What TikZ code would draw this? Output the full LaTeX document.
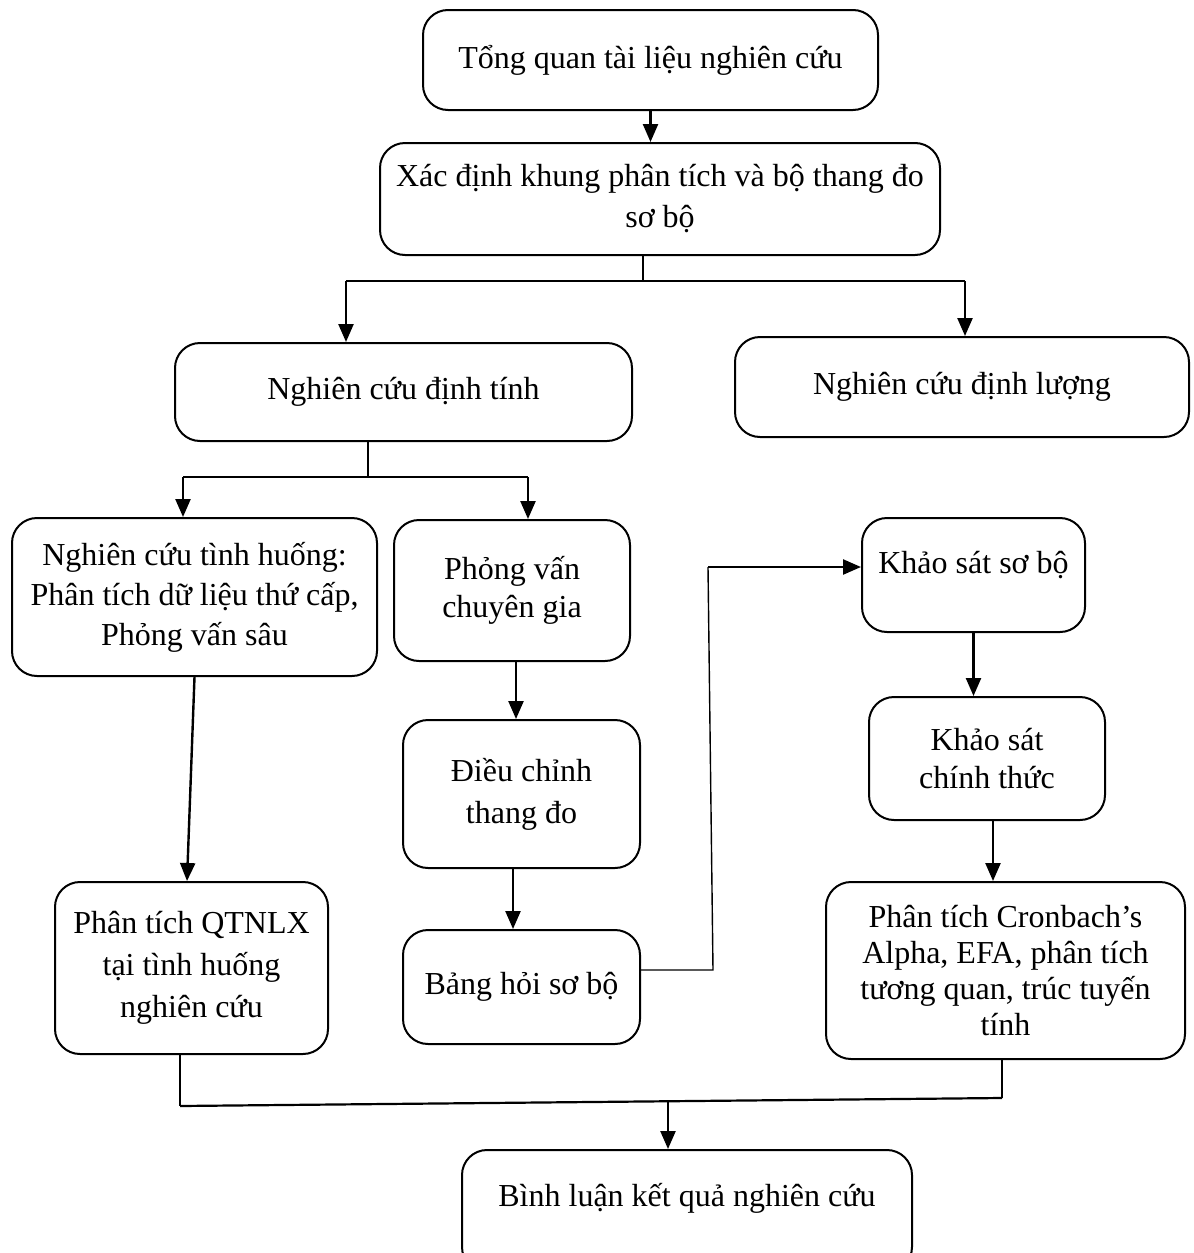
\documentclass[tikz,border=0pt]{standalone}
\usepackage{fontspec}
\setmainfont{Liberation Serif}
\usetikzlibrary{arrows.meta,calc}
\begin{document}
\begin{tikzpicture}[x=1pt,y=-1pt,
  box/.style={draw, line width=2pt, rounded corners=25pt, align=center,
    inner sep=0pt, font=\fontsize{32}{41}\selectfont},
  arr/.style={line width=2.4pt, -{Triangle[length=18pt,width=15pt]}},
  thinline/.style={line width=1.4pt},
  link/.style={line width=2.2pt}]
\useasboundingbox (0,0) rectangle (1194,1253);

% boxes
\node[box, minimum width=455pt, minimum height=100pt] (tq) at (650.5,60) {Tổng quan tài liệu nghiên cứu};
\node[box, minimum width=560pt, minimum height=112pt] (xd) at (660,199) {Xác định khung phân tích và bộ thang đo\\sơ bộ};
\node[box, minimum width=457pt, minimum height=98pt] (dt) at (403.5,392) {Nghiên cứu định tính};
\node[box, minimum width=454pt, minimum height=100pt] (dl) at (962,387) {Nghiên cứu định lượng};
\node[box, minimum width=365pt, minimum height=158pt, font=\fontsize{32}{40}\selectfont] (th) at (194.5,597) {Nghiên cứu tình huống:\\Phân tích dữ liệu thứ cấp,\\Phỏng vấn sâu};
\node[box, minimum width=236pt, minimum height=141pt, font=\fontsize{32}{38}\selectfont] (pv) at (512,590.5) {Phỏng vấn\\chuyên gia};
\node[box, minimum width=237pt, minimum height=148pt, font=\fontsize{32}{42}\selectfont] (dc) at (521.5,794) {Điều chỉnh\\thang đo};
\node[box, minimum width=237pt, minimum height=114pt] (bh) at (521.5,987) {Bảng hỏi sơ bộ};
\node[box, minimum width=223pt, minimum height=114pt, text height=24pt, text depth=28pt] (ks) at (973.5,575) {Khảo sát sơ bộ};
\node[box, minimum width=236pt, minimum height=123pt, font=\fontsize{32}{38}\selectfont] (kc) at (987,758.5) {Khảo sát\\chính thức};
\node[box, minimum width=359pt, minimum height=177pt, font=\fontsize{32}{36}\selectfont] (pc) at (1005.5,970.5) {Phân tích Cronbach’s\\Alpha, EFA, phân tích\\tương quan, trúc tuyến\\tính};
\node[box, minimum width=273pt, minimum height=172pt, font=\fontsize{32}{42}\selectfont] (qt) at (191.5,968) {Phân tích QTNLX\\tại tình huống\\nghiên cứu};
\node[box, minimum width=450pt, minimum height=122pt, text height=24pt, text depth=34pt] (bl) at (687,1211) {Bình luận kết quả nghiên cứu};

% junction points
\coordinate (s1) at (643,281);
\coordinate (s1l) at (346,281);
\coordinate (s1r) at (965,281);
\coordinate (s2) at (368,477);
\coordinate (s2l) at (183,477);
\coordinate (s2r) at (528,477);
\coordinate (c1) at (187,0);
\coordinate (c2) at (516,0);
\coordinate (c3) at (513,0);
\coordinate (c4) at (993,0);
\coordinate (r1) at (713,970);
\coordinate (r2) at (708,567);
\coordinate (m1) at (180,1106);
\coordinate (m2) at (1002,1098);
\coordinate (m3) at (668,1102);

% top chain
\draw[arr] (tq.south) -- (tq.south |- xd.north);
\draw[thinline] (xd.south -| s1) -- (s1);
\draw[link] (s1l) -- (s1r);
\draw[arr] (s1l) -- (s1l |- dt.north);
\draw[arr] (s1r) -- (s1r |- dl.north);

% qualitative branch
\draw[thinline] (dt.south -| s2) -- (s2);
\draw[link] (s2l) -- (s2r);
\draw[arr] (s2l) -- (s2l |- th.north);
\draw[arr] (s2r) -- (s2r |- pv.north);
\draw[arr] (th.south) -- (qt.north -| c1);
\draw[arr] (pv.south -| c2) -- (dc.north -| c2);
\draw[arr] (dc.south -| c3) -- (bh.north -| c3);

% questionnaire to survey
\draw[thinline] (bh.east |- r1) -- (r1) -- (r2);
\draw[arr] (r2) -- (r2 -| ks.west);

% quantitative chain
\draw[arr] (ks.south) -- (ks.south |- kc.north);
\draw[arr] (kc.south -| c4) -- (pc.north -| c4);

% merge into discussion
\draw[thinline] (qt.south -| m1) -- (m1);
\draw[thinline] (pc.south -| m2) -- (m2);
\draw[link] (m1) -- (m2);
\draw[arr] (m3) -- (m3 |- bl.north);
\end{tikzpicture}
\end{document}
